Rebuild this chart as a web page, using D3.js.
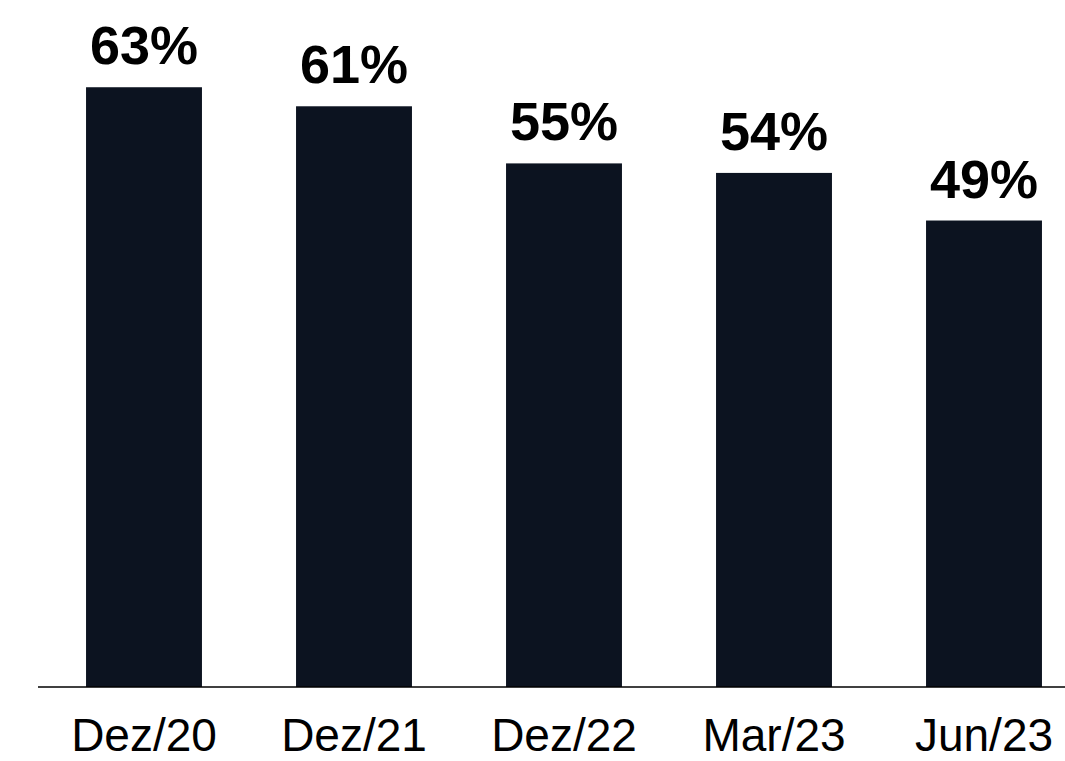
<!DOCTYPE html>
<html><head><meta charset="utf-8">
<script src="https://cdn.jsdelivr.net/npm/d3@7"></script>
<style>html,body{margin:0;padding:0;background:#fff;}</style>
</head><body>
<svg id="chart" width="1065" height="761"></svg>
<script>
const categories = ["Dez/20", "Dez/21", "Dez/22", "Mar/23", "Jun/23"];
const values = [63, 61, 55, 54, 49];
const valueLabels = ["63%", "61%", "55%", "54%", "49%"];

const svg = d3.select("#chart");
const baseY = 687;
const x = d3.scaleBand().domain(categories).range([39, 1089]).paddingInner(0.448).paddingOuter(0.224);
const y = d3.scaleLinear().domain([0, 100]).range([baseY, baseY - 952]);

svg.selectAll("rect.bar").data(values).enter().append("rect")
  .attr("class", "bar")
  .attr("x", (d, i) => x(categories[i]))
  .attr("width", x.bandwidth())
  .attr("y", d => y(d))
  .attr("height", d => y(0) - y(d))
  .attr("fill", "#0c1320");

svg.selectAll("text.val").data(values).enter().append("text")
  .attr("class", "val")
  .attr("x", (d, i) => x(categories[i]) + x.bandwidth() / 2)
  .attr("y", d => y(d) - 23)
  .attr("text-anchor", "middle")
  .attr("font-family", "Liberation Sans, Arial, sans-serif")
  .attr("font-weight", "bold")
  .attr("font-size", 54)
  .attr("fill", "#000")
  .text((d, i) => valueLabels[i]);

const axis = d3.axisBottom(x).tickSize(0).tickPadding(0);
const g = svg.append("g").attr("transform", `translate(0,${baseY})`).call(axis);
g.select(".domain").attr("stroke", "#000").attr("stroke-width", 1.5).attr("d", "M38,0H1089");
g.selectAll(".tick text")
  .attr("font-family", "Liberation Sans, Arial, sans-serif")
  .attr("font-size", 46)
  .attr("fill", "#000")
  .attr("dy", 0)
  .attr("y", 64);
</script>
</body></html>
